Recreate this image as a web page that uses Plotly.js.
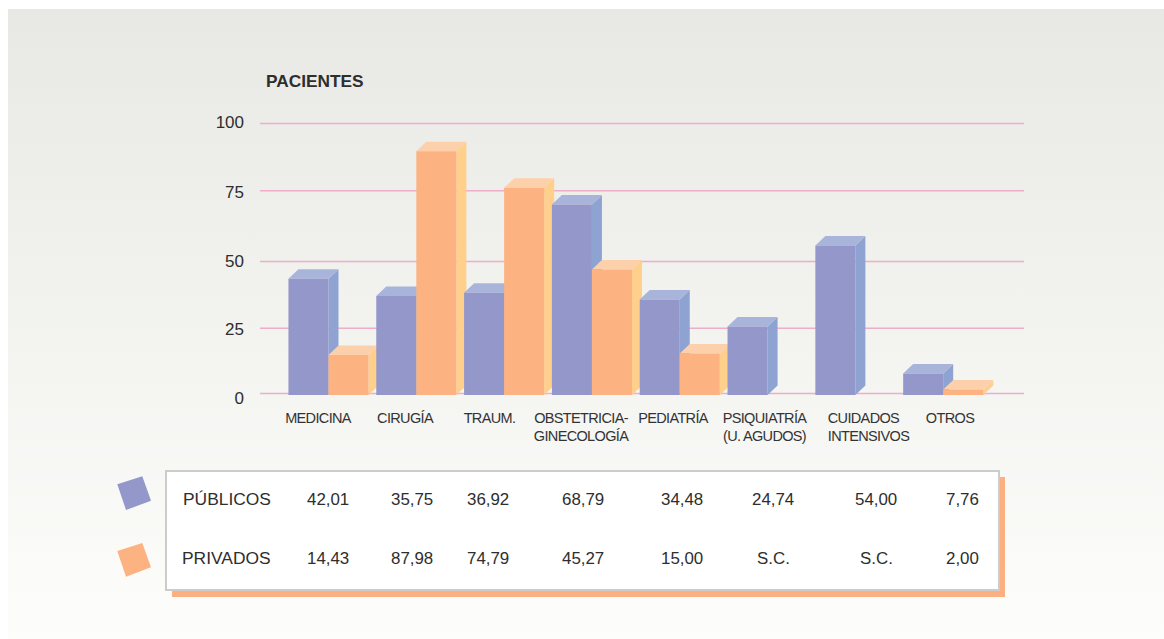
<!DOCTYPE html>
<html><head><meta charset="utf-8">
<script src="https://cdn.plot.ly/plotly-3.0.1.min.js"></script>
<style>
html,body{margin:0;padding:0;background:#fff;overflow:hidden}
#bg{position:absolute;left:8px;top:9px;width:1156px;height:630px;background:linear-gradient(#e8e8e4,#fdfdfb)}
#chart{position:absolute;left:0;top:0;width:1164px;height:639px}
.xtick text{letter-spacing:-0.65px}
</style></head><body>
<div id="bg"></div><div id="chart"></div>
<script>
const categories = ['MEDICINA','CIRUGÍA','TRAUM.','OBSTETRICIA-<br>GINECOLOGÍA','PEDIATRÍA','PSIQUIATRÍA<br>(U. AGUDOS)','CUIDADOS\u00a0\u00a0\u00a0<br>INTENSIVOS','OTROS'];
const publicos = [42.01,35.75,36.92,68.79,34.48,24.74,54.00,7.76];
const privados = [14.43,87.98,74.79,45.27,15.00,null,null,2.00];
const yLabels = ['0','25','50','75','100'];

// page-pixel helpers: value 0 sits at pixel 395, 2.77 px per unit, axis runs a little below 0
const L=260,R=1024,T=118,Z=395,S=2.77,B=403;
const yMin=(Z-B)/S;
const xMin=-0.78,xMax=7.92;
const pxX=p=>xMin+(p-L)/(R-L)*(xMax-xMin);
const pxY=p=>(Z-p)/S;
const pX=p=>(p-L)/(R-L), pY=p=>(B-p)/(B-T);

const gridPx=[393.6,328.3,261.6,190.8,123.6];
const yLabelPx=[398,329.5,261.5,192.5,122.5];
const labelPx=[318,405,489.5,581,673,764.5,868.5,950];
const colPx=[328,412,488,583,682,773,876,962];

const blue={front:'#9497c9',side:'#8fa3d2',top:'#a9b4db'};
const orange={front:'#fdb281',side:'#ffcf8c',top:'#fdd0ac'};
const gap=0.088, w=(1-gap)/2, dx=10/((R-L)/(xMax-xMin)), dy=9.5/S;

function faces(x0,x1,v,c){
  const mk=(pts,col)=>({type:'path',layer:'between',xref:'x',yref:'y',line:{width:0},fillcolor:col,
    path:'M'+pts.map(p=>p.join(',')).join('L')+'Z'});
  return [
    mk([[x1,0],[x1+dx,dy],[x1+dx,v+dy],[x1,v]],c.side),
    mk([[x0,v],[x0+dx,v+dy],[x1+dx,v+dy],[x1,v]],c.top)
  ];
}
let shapes=[];
gridPx.forEach(p=>shapes.push({type:'line',layer:'below',xref:'paper',yref:'y',x0:0,x1:1,y0:pxY(p),y1:pxY(p),
  line:{color:'#efaccb',width:1.5}}));
categories.forEach((_,i)=>{
  shapes=shapes.concat(faces(i-w,i,publicos[i],blue));
  if(privados[i]!==null) shapes=shapes.concat(faces(i,i+w,privados[i],orange));
});
const rect=(x0,y0,x1,y1,fill,line)=>({type:'rect',xref:'paper',yref:'paper',layer:'below',
  x0:pX(x0),x1:pX(x1),y0:pY(y1),y1:pY(y0),fillcolor:fill,line:line||{width:0}});
const poly=(pts,fill)=>({type:'path',xref:'paper',yref:'paper',layer:'below',fillcolor:fill,line:{width:0},
  path:'M'+pts.map(p=>pX(p[0])+','+pY(p[1])).join('L')+'Z'});
shapes.push(rect(172,477,1005,597,'#fdb07f'));
shapes.push(rect(166,471,999,590,'#ffffff',{color:'#cccccc',width:2}));
shapes.push(poly([[117.3,484.3],[142.3,476.3],[151,500.7],[126,510]],blue.front));
shapes.push(poly([[117.3,551],[142.3,543],[151,567.3],[126,576.7]],orange.front));

const fmt=v=>v===null?'S.C.':v.toFixed(2).replace('.',',');
const ann=(txt,x,y,size,extra)=>Object.assign({text:txt,xref:'paper',yref:'paper',x:pX(x),y:pY(y),
  showarrow:false,xanchor:'center',yanchor:'middle',font:{family:'Liberation Sans, Arial, sans-serif',size:size,color:'#2e2e2e'}},extra||{});
const annotations=[
  ann('<b>PACIENTES</b>',264,81,17.3,{xanchor:'left'}),
  ann('PÚBLICOS',226.5,499,17.4),
  ann('PRIVADOS',226.5,558,17.4)
];
colPx.forEach((x,i)=>{
  annotations.push(ann(fmt(publicos[i]),x,499,16.9));
  annotations.push(ann(fmt(privados[i]),x,558,16.9));
});

const xs=categories.map((_,i)=>i);
const traces=[
  {type:'bar',name:'PÚBLICOS',x:xs,y:publicos,marker:{color:blue.front,line:{width:0}},hoverinfo:'y'},
  {type:'bar',name:'PRIVADOS',x:xs,y:privados,marker:{color:orange.front,line:{width:0}},hoverinfo:'y'}
];
const layout={
  width:1164,height:639,autosize:false,
  paper_bgcolor:'rgba(0,0,0,0)',plot_bgcolor:'rgba(0,0,0,0)',
  margin:{l:L,r:1164-R,t:T,b:639-B,pad:0},
  showlegend:false,barmode:'group',bargap:gap,bargroupgap:0,
  font:{family:'Liberation Sans, Arial, sans-serif',color:'#2e2e2e'},
  xaxis:{type:'linear',range:[xMin,xMax],tickmode:'array',tickvals:labelPx.map(pxX),ticktext:categories,
    showgrid:false,zeroline:false,showline:false,ticks:'',ticklabelstandoff:4,tickangle:0,
    tickfont:{size:14.5,color:'#333333'},fixedrange:true},
  yaxis:{range:[yMin,100],tickmode:'array',tickvals:yLabelPx.map(pxY),ticktext:yLabels,
    showgrid:false,zeroline:false,showline:false,ticks:'',
    ticklabelstandoff:15,tickfont:{size:17,color:'#2e2e2e'},fixedrange:true},
  shapes,annotations
};
Plotly.newPlot('chart',traces,layout,{displayModeBar:false,staticPlot:true});
</script></body></html>
